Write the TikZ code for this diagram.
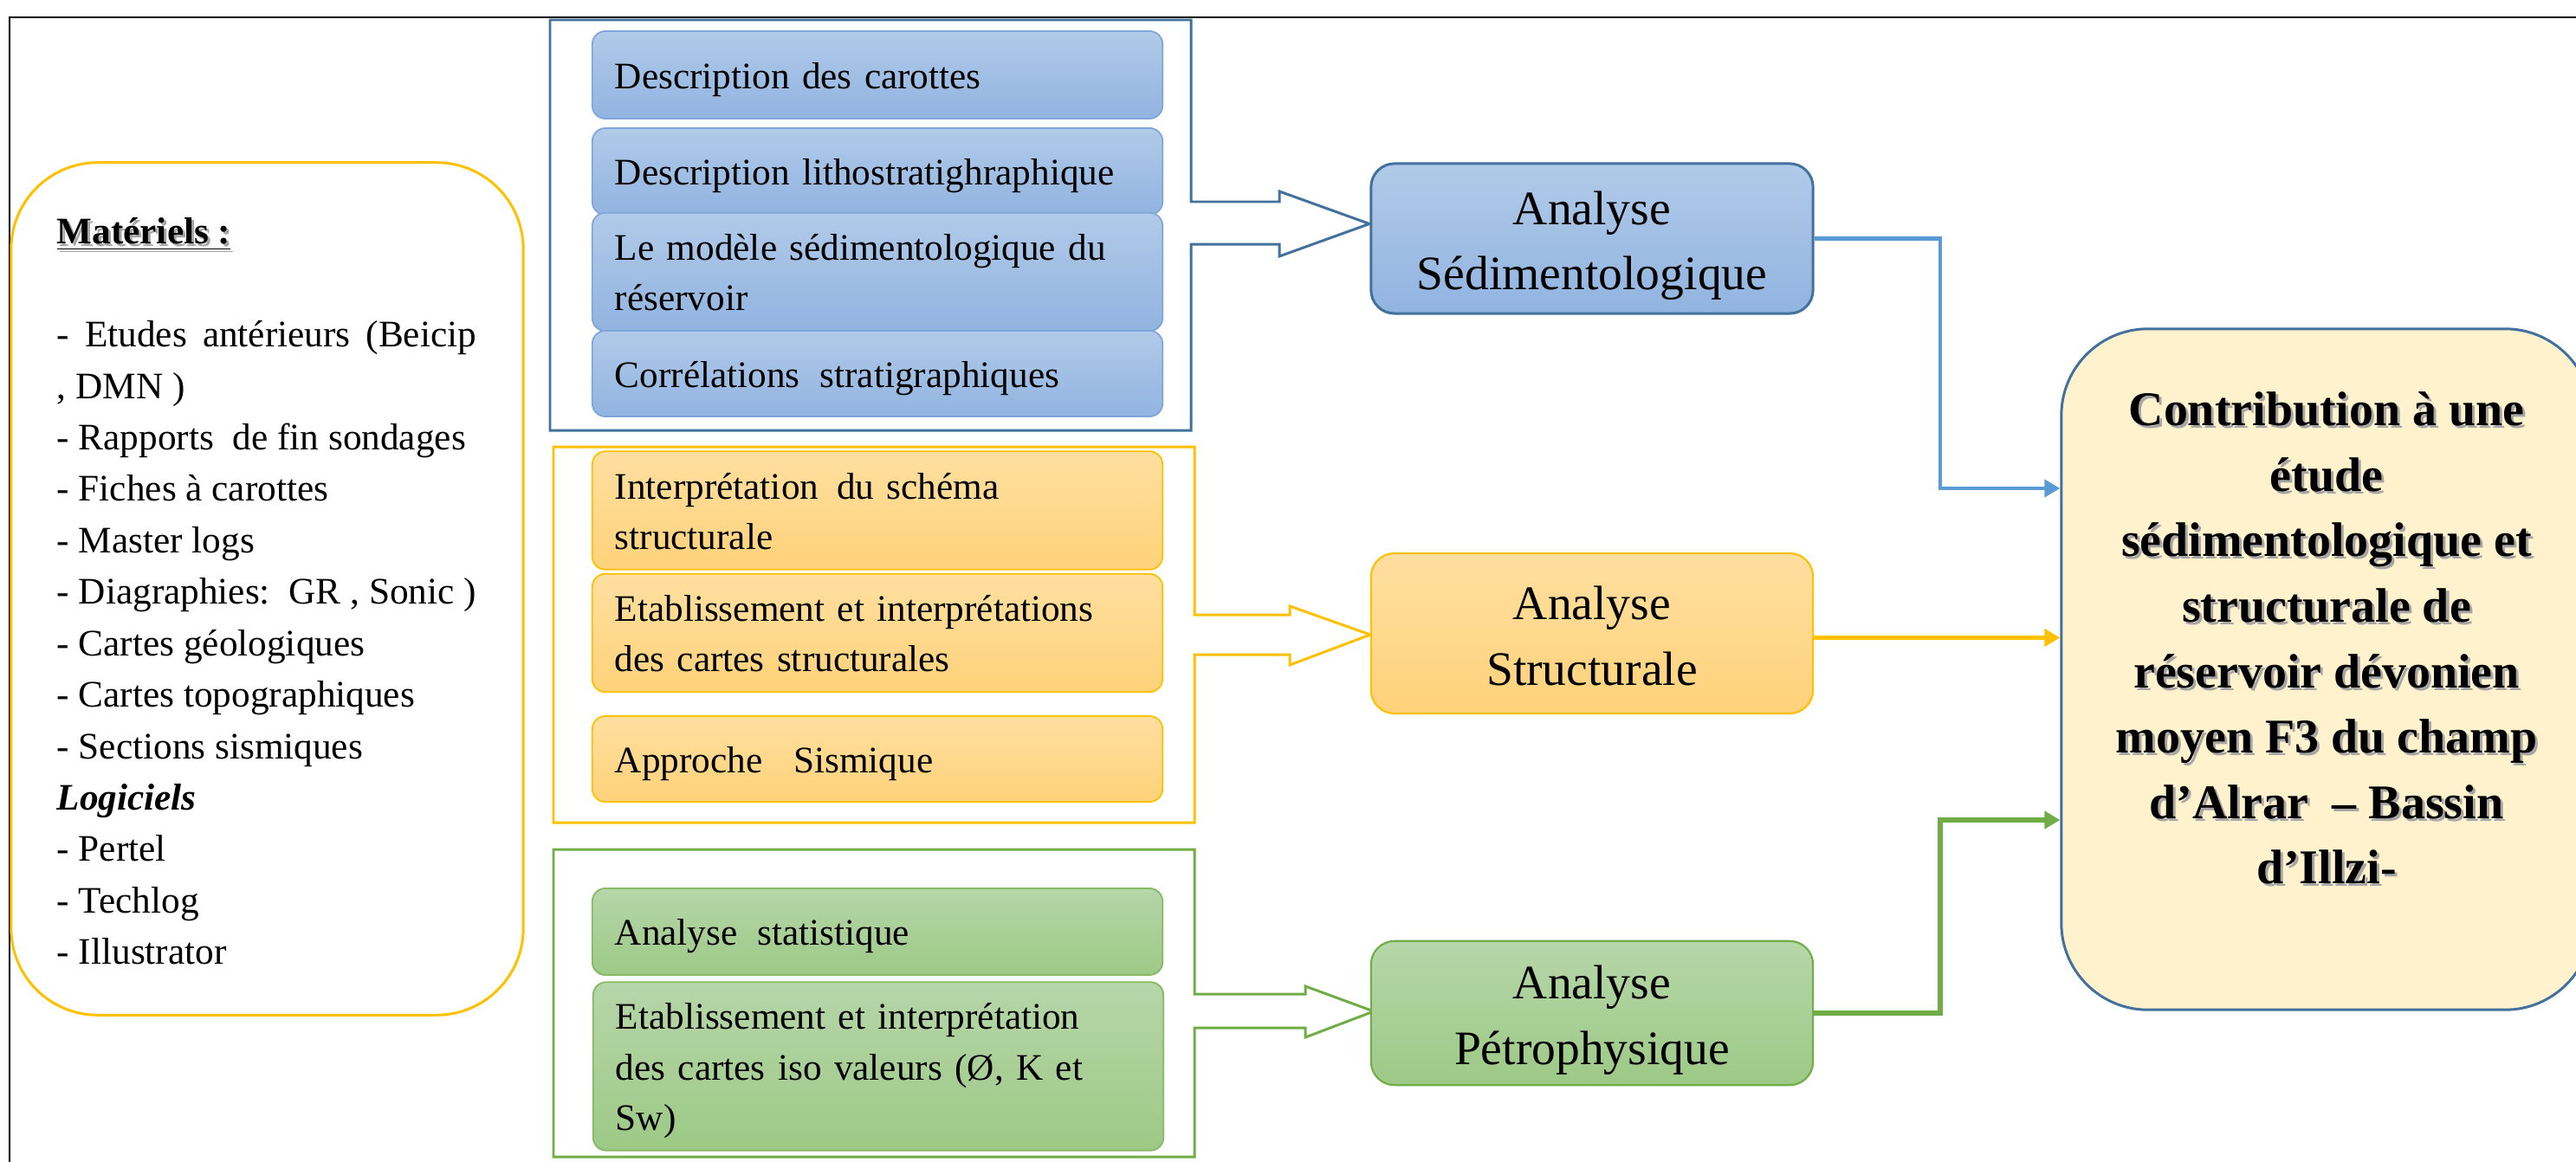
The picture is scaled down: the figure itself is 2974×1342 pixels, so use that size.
\documentclass[tikz,border=0pt]{standalone}
\usepackage{fontspec}
\setmainfont{Liberation Serif}
\usetikzlibrary{arrows.meta,calc}
\definecolor{gold}{HTML}{FFC000}
\definecolor{steel}{HTML}{41719C}
\definecolor{lineblue}{HTML}{5B9BD5}
\definecolor{grn}{HTML}{70AD47}
\definecolor{blueA}{HTML}{B1CAE9}
\definecolor{blueB}{HTML}{91B4E0}
\definecolor{blueEdge}{HTML}{7EA6DA}
\definecolor{goldA}{HTML}{FFDFA0}
\definecolor{goldB}{HTML}{FFD27A}
\definecolor{grnA}{HTML}{B6D6A9}
\definecolor{grnB}{HTML}{9DC986}
\definecolor{cream}{HTML}{FFF2CC}
\newcommand\shadowed[1]{\makebox[0pt][l]{\hspace{0.03cm}\raisebox{-0.03cm}{\textcolor{black!35}{#1}}}#1}
\newcommand\hb[1]{\rule{0pt}{#1}}
\newcommand\db[1]{\rule[-#1]{0pt}{#1}}
\begin{document}
\begin{tikzpicture}[x=0.01cm,y=0.01cm,
  item/.style={rectangle, rounded corners=0.15cm, line width=0.5pt, minimum width=6.58cm,
    text width=6.06cm, inner xsep=0.26cm, align=left, font=\fontsize{12.3}{16.5}\selectfont},
  bluebox/.style={item, draw=blueEdge, top color=blueA, bottom color=blueB},
  goldbox/.style={item, draw=gold, top color=goldA, bottom color=goldB},
  grnbox/.style={item, draw=grn!85, top color=grnA, bottom color=grnB},
  anal/.style={rectangle, rounded corners=0.27cm, minimum width=5.1cm, align=center,
    font=\fontsize{15.8}{21.6}\selectfont},
  frameline/.style={line width=0.85pt, line join=miter},
  conn/.style={line width=1.15pt, -{Triangle[length=0.18cm,width=0.2cm]}},
]
\useasboundingbox (0,0) rectangle (2974,-1342);
\clip (0,0) rectangle (2974,-1342);
\fill[white] (0,0) rectangle (2974,-1342);

% outer frame
\draw[line width=0.7pt] (11,-20) rectangle (3020,-1400);

% left materials box
\node (mat) [rectangle, rounded corners=1cm, draw=gold, line width=0.85pt,
  minimum width=5.91cm, minimum height=9.84cm] at (308.5,-680) {};
\node (mattext) [anchor=west, inner sep=0pt, align=left, font=\fontsize{12.3}{16.9}\selectfont] at (65,-683)
{\hb{0.30cm}\textbf{\shadowed{\underline{Matériels :}}}\\[16.9pt]
\makebox[4.84cm][s]{- Etudes antérieurs (Beicip}\\
, DMN )\\
- Rapports\ \ de fin sondages\\
- Fiches à carottes\\
- Master logs\\
- Diagraphies:\ \ GR , Sonic )\\
- Cartes géologiques\\
- Cartes topographiques\\
- Sections sismiques\\
\textbf{\itshape Logiciels}\\
- Pertel\\
- Techlog\\
- Illustrator};

% frames with block arrows
\draw[frameline, steel] (635,-23) -- (1375,-23) -- (1375,-233) -- (1477,-233) -- (1477,-221)
  -- (1581,-258.5) -- (1477,-296) -- (1477,-282) -- (1375,-282) -- (1375,-497) -- (635,-497) -- cycle;
\draw[frameline, gold] (639,-516) -- (1379,-516) -- (1379,-710) -- (1489,-710) -- (1489,-700)
  -- (1582,-733) -- (1489,-768) -- (1489,-756) -- (1379,-756) -- (1379,-950) -- (639,-950) -- cycle;
\draw[frameline, grn] (639,-981) -- (1379,-981) -- (1379,-1148) -- (1507,-1148) -- (1507,-1139)
  -- (1586,-1168) -- (1507,-1198) -- (1507,-1187) -- (1379,-1187) -- (1379,-1336) -- (639,-1336) -- cycle;

% blue items
\node (b1) [bluebox, minimum height=1.01cm] at (1013,-86.5) {\hb{0.43cm}Description des carottes\db{0.12cm}};
\node (b2) [bluebox, minimum height=1.00cm] at (1013,-198) {\hb{0.43cm}Description lithostratighraphique\db{0.12cm}};
\node (b3) [bluebox, minimum height=1.00cm] at (1013,-314) {\hb{0.43cm}Le modèle sédimentologique du\\réservoir\db{0.12cm}};
\node (b4) [bluebox, minimum height=0.99cm] at (1013,-431.5) {\hb{0.43cm}Corrélations\hspace{0.2em} stratigraphiques\db{0.12cm}};

% gold items
\node (y1) [goldbox, minimum height=1.01cm] at (1013,-589.5) {\hb{0.43cm}Interprétation\hspace{0.15em} du schéma\\structurale\db{0.12cm}};
\node (y2) [goldbox, minimum height=1.00cm] at (1013,-731) {\hb{0.43cm}Etablissement et interprétations\\des cartes structurales\db{0.12cm}};
\node (y3) [goldbox, minimum height=0.99cm] at (1013,-876.5) {\hb{0.43cm}Approche\hspace{0.5em} Sismique\db{0.12cm}};

% green items
\node (g1) [grnbox, minimum height=1.00cm] at (1013,-1076) {\hb{0.43cm}Analyse\hspace{0.2em} statistique\db{0.12cm}};
\node (g2) [grnbox, minimum height=1.71cm] at (1014,-1231.5) {\hb{0.43cm}Etablissement et interprétation\\des cartes iso valeurs (Ø, K et\\Sw)\db{0.12cm}};

% analyse boxes
\node (sed) [anal, draw=steel, line width=0.85pt, top color=blueA, bottom color=blueB, minimum height=1.73cm]
  at (1838,-275.5) {\hb{0.55cm}Analyse\\Sédimentologique\db{0.12cm}};
\node (str) [anal, draw=gold, line width=0.6pt, top color=goldA, bottom color=goldB, minimum height=1.85cm]
  at (1838,-731.5) {\hb{0.55cm}Analyse\\Structurale\db{0.12cm}};
\node (pet) [anal, draw=grn, line width=0.6pt, top color=grnA, bottom color=grnB, minimum height=1.60cm]
  at (1838,-1170) {\hb{0.55cm}Analyse\\Pétrophysique\db{0.12cm}};

% final box
\node (final) [rectangle, rounded corners=1cm, draw=steel, line width=0.85pt, fill=cream,
  minimum width=6.12cm, minimum height=7.86cm] at (2686,-773) {};
\node (finaltext) [align=center, inner sep=0pt, font=\bfseries\fontsize{15.9}{21.5}\selectfont] at (2686,-738)
{\hb{0.40cm}\shadowed{Contribution à une}\\
\shadowed{étude}\\
\shadowed{sédimentologique et}\\
\shadowed{structurale de}\\
\shadowed{réservoir dévonien}\\
\shadowed{moyen F3 du champ}\\
\shadowed{d’Alrar~ – Bassin}\\
\shadowed{d’Illzi-}};

% connectors
\coordinate (bj) at (2240,-564);
\draw[conn, lineblue] (sed.east) -| (bj) -- (bj -| final.west);
\coordinate (ys) at ([yshift=-0.05cm]str.east);
\draw[conn, gold] (ys) -- (ys -| final.west);
\coordinate (gj) at (2240,-947);
\draw[conn, grn, line width=1.6pt] (pet.east) -| (gj) -- (gj -| final.west);
\end{tikzpicture}
\end{document}
